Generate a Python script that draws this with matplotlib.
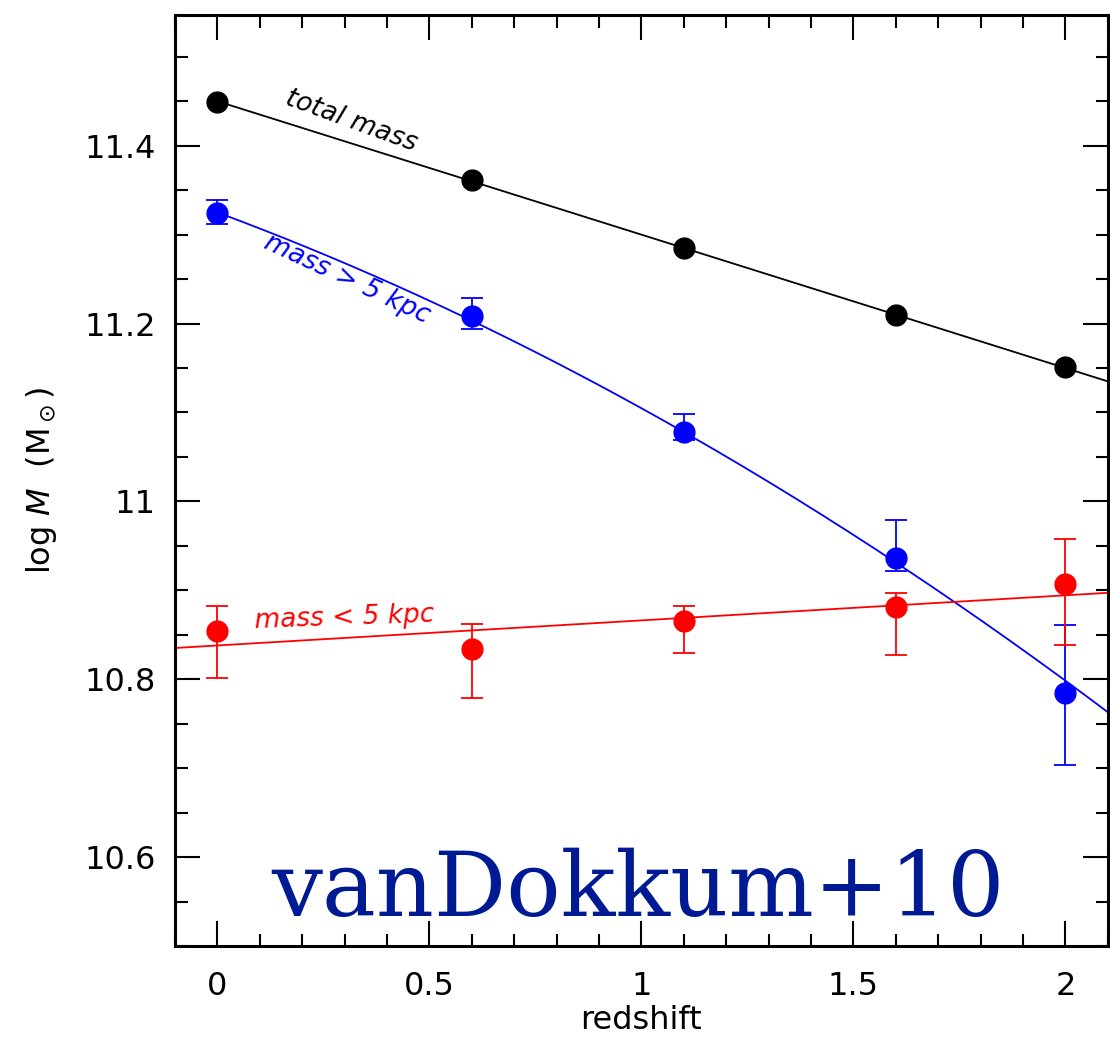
import numpy as np
import matplotlib.pyplot as plt
from matplotlib.ticker import MultipleLocator

plt.rcParams.update({
    "font.family": "DejaVu Sans",
    "mathtext.fontset": "dejavusans",
})

# data
z = [0.0, 0.6, 1.1, 1.6, 2.0]

m_total = [11.449, 11.361, 11.285, 11.210, 11.151]

m_outer = [11.324, 11.208, 11.078, 10.936, 10.784]
m_outer_hi = [11.339, 11.229, 11.098, 10.979, 10.861]
m_outer_lo = [11.312, 11.194, 11.069, 10.922, 10.704]

m_inner = [10.854, 10.834, 10.866, 10.881, 10.907]
m_inner_hi = [10.882, 10.862, 10.882, 10.897, 10.958]
m_inner_lo = [10.801, 10.779, 10.830, 10.827, 10.838]

# fit curves (polynomial coefficients, highest power first)
fit_total = [-0.15, 11.45]
fit_outer = [-0.0431, -0.1771, 11.325]
fit_inner = [0.0282, 10.838]

fig = plt.figure(figsize=(11.1, 10.42), dpi=100)
ax = fig.add_axes([0.1577, 0.0921, 0.8403, 0.8935])

zz = np.linspace(0, 2.1, 200)
zz_full = np.linspace(-0.1, 2.1, 200)
ax.plot(zz, np.polyval(fit_total, zz), color="black", lw=1.3)
ax.plot(zz, np.polyval(fit_outer, zz), color="blue", lw=1.3)
ax.plot(zz_full, np.polyval(fit_inner, zz_full), color="red", lw=1.3)

ax.plot(z, m_total, "o", color="black", ms=15)

outer_err = [np.array(m_outer) - np.array(m_outer_lo), np.array(m_outer_hi) - np.array(m_outer)]
ax.errorbar(z, m_outer, yerr=outer_err, fmt="o", color="blue", ms=15,
            capsize=8, elinewidth=1.3, capthick=1.3)

inner_err = [np.array(m_inner) - np.array(m_inner_lo), np.array(m_inner_hi) - np.array(m_inner)]
ax.errorbar(z, m_inner, yerr=inner_err, fmt="o", color="red", ms=15,
            capsize=8, elinewidth=1.3, capthick=1.3)

ax.text(0.315, 11.428, "total mass", color="black", fontsize=19, style="italic",
        rotation=-20, ha="center", va="center")
ax.text(0.306, 11.250, "mass > 5 kpc", color="blue", fontsize=19, style="italic",
        rotation=-25, ha="center", va="center")
ax.text(0.30, 10.869, "mass < 5 kpc", color="red", fontsize=19, style="italic",
        rotation=2, ha="center", va="center")

ax.text(0.993, 10.562, "vanDokkum+10", color="#001a94", fontsize=65,
        family="DejaVu Serif", ha="center", va="center")

ax.set_xlim(-0.1, 2.1)
ax.set_ylim(10.5, 11.547)
ax.set_xticks([0, 0.5, 1, 1.5, 2])
ax.set_xticklabels(["0", "0.5", "1", "1.5", "2"])
ax.set_yticks([10.6, 10.8, 11.0, 11.2, 11.4])
ax.set_yticklabels(["10.6", "10.8", "11", "11.2", "11.4"])
ax.xaxis.set_minor_locator(MultipleLocator(0.1))
ax.yaxis.set_minor_locator(MultipleLocator(0.05))
ax.tick_params(which="both", direction="in", top=True, right=True, width=1.5,
               labelsize=23)
ax.tick_params(axis="x", which="both", pad=18)
ax.tick_params(axis="y", which="both", pad=14)
ax.tick_params(which="major", length=18)
ax.tick_params(which="minor", length=9)
for s in ax.spines.values():
    s.set_linewidth(2.2)

ax.set_xlabel("redshift", fontsize=23, labelpad=2)
ax.set_ylabel(r"log $M$  (M$_\odot$)", fontsize=23, labelpad=18)

fig.savefig("out.png", dpi=100)
